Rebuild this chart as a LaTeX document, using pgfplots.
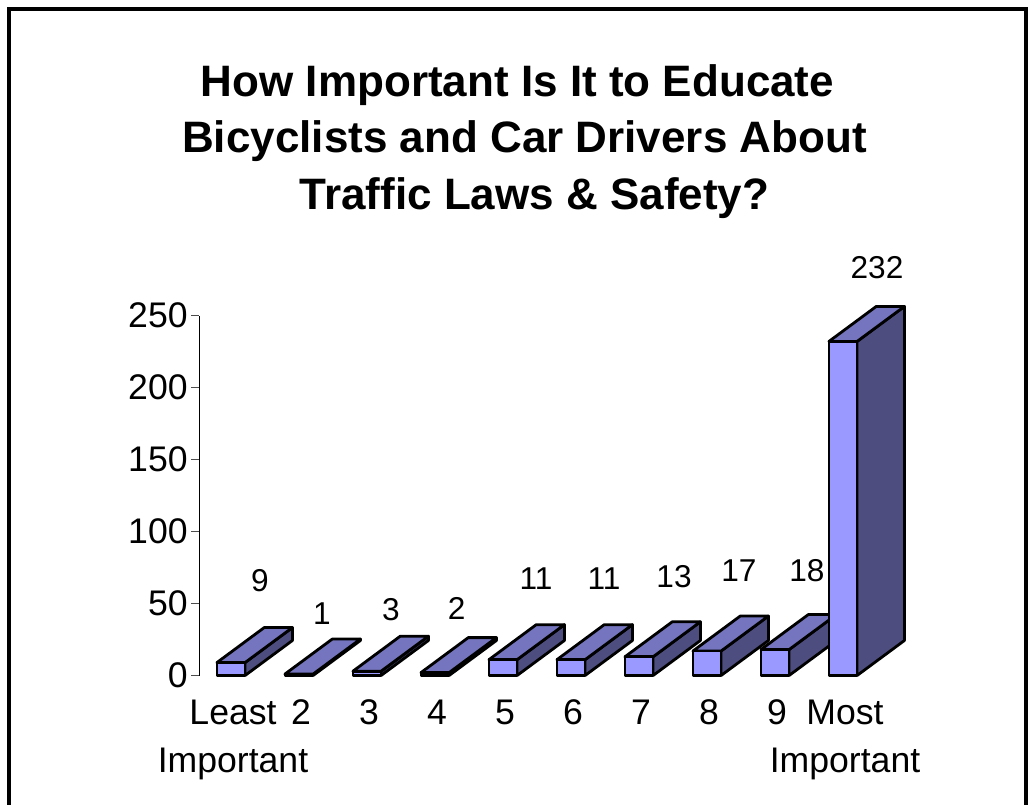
\documentclass[border=0pt]{standalone}
\usepackage{fontspec}
\setmainfont{Liberation Sans}
\usepackage{pgfplots}
\pgfplotsset{compat=1.18}
\definecolor{frontc}{RGB}{153,153,255}
\definecolor{topc}{RGB}{117,117,191}
\definecolor{sidec}{RGB}{77,77,128}
\begin{document}
\begin{tikzpicture}[x=1pt,y=1pt]
\path[use as bounding box] (0,0) rectangle (775.5pt,603pt);
\draw[line width=2.6pt] (6.75pt,-5pt) -- (6.75pt,596.25pt) -- (769.5pt,596.25pt) -- (769.5pt,-5pt);
\node[font=\bfseries\fontsize{33}{36}\selectfont] at (388.1pt,539.2pt) {How Important Is It to Educate};
\node[font=\bfseries\fontsize{33}{36}\selectfont] at (393.4pt,497.2pt) {Bicyclists and Car Drivers About};
\node[font=\bfseries\fontsize{33}{36}\selectfont] at (400.9pt,454.5pt) {Traffic Laws \& Safety?};
\begin{axis}[
  at={(149.25pt,96.375pt)}, anchor=south west,
  scale only axis, width=534pt, height=270pt,
  xmin=-0.4706, xmax=10, ymin=0, ymax=250,
  clip=false,
  axis lines=left, axis line style={-, line width=0.6pt},
  x axis line style={draw=none},
  xtick={0,1,2,3,4,5,6,7,8,9},
  xticklabels={Least\\Important,2,3,4,5,6,7,8,9,Most\\Important},
  x tick style={draw=none},
  x tick label style={font=\fontsize{26.7}{36}\selectfont, align=center, anchor=north, yshift=-8.5pt, xshift=1.5pt},
  ytick={0,50,100,150,200,250},
  y tick style={line width=0.6pt, color=black!70},
  tick align=outside, major tick length=6pt,
  y tick label style={font=\fontsize{26.7}{30}\selectfont, xshift=1pt},
  /pgf/number format/assume math mode=true,
  every axis plot/.append style={line width=2.1pt, draw=black, line join=round},
]
% side faces
\addplot[fill=sidec] coordinates {(0.207,0) (0.903,24.3) (0.903,33.3) (0.207,9)} -- cycle;
\addplot[fill=sidec] coordinates {(1.207,0) (1.903,24.3) (1.903,25.3) (1.207,1)} -- cycle;
\addplot[fill=sidec] coordinates {(2.207,0) (2.903,24.3) (2.903,27.3) (2.207,3)} -- cycle;
\addplot[fill=sidec] coordinates {(3.207,0) (3.903,24.3) (3.903,26.3) (3.207,2)} -- cycle;
\addplot[fill=sidec] coordinates {(4.207,0) (4.903,24.3) (4.903,35.3) (4.207,11)} -- cycle;
\addplot[fill=sidec] coordinates {(5.207,0) (5.903,24.3) (5.903,35.3) (5.207,11)} -- cycle;
\addplot[fill=sidec] coordinates {(6.207,0) (6.903,24.3) (6.903,37.3) (6.207,13)} -- cycle;
\addplot[fill=sidec] coordinates {(7.207,0) (7.903,24.3) (7.903,41.3) (7.207,17)} -- cycle;
\addplot[fill=sidec] coordinates {(8.207,0) (8.903,24.3) (8.903,42.3) (8.207,18)} -- cycle;
\addplot[fill=sidec] coordinates {(9.207,0) (9.903,24.3) (9.903,256.3) (9.207,232)} -- cycle;
% top faces
\addplot[fill=topc] coordinates {(-0.207,9) (0.489,33.3) (0.903,33.3) (0.207,9)} -- cycle;
\addplot[fill=topc] coordinates {(0.793,1) (1.489,25.3) (1.903,25.3) (1.207,1)} -- cycle;
\addplot[fill=topc] coordinates {(1.793,3) (2.489,27.3) (2.903,27.3) (2.207,3)} -- cycle;
\addplot[fill=topc] coordinates {(2.793,2) (3.489,26.3) (3.903,26.3) (3.207,2)} -- cycle;
\addplot[fill=topc] coordinates {(3.793,11) (4.489,35.3) (4.903,35.3) (4.207,11)} -- cycle;
\addplot[fill=topc] coordinates {(4.793,11) (5.489,35.3) (5.903,35.3) (5.207,11)} -- cycle;
\addplot[fill=topc] coordinates {(5.793,13) (6.489,37.3) (6.903,37.3) (6.207,13)} -- cycle;
\addplot[fill=topc] coordinates {(6.793,17) (7.489,41.3) (7.903,41.3) (7.207,17)} -- cycle;
\addplot[fill=topc] coordinates {(7.793,18) (8.489,42.3) (8.903,42.3) (8.207,18)} -- cycle;
\addplot[fill=topc] coordinates {(8.793,232) (9.489,256.3) (9.903,256.3) (9.207,232)} -- cycle;
% front faces: the values
\addplot[ybar, bar width=0.414, fill=frontc] coordinates {(0,9) (1,1) (2,3) (3,2) (4,11) (5,11) (6,13) (7,17) (8,18) (9,232)};
% data labels
\begin{scope}[every node/.style={font=\fontsize{23.7}{25}\selectfont}]
\node at (axis cs:0.426,66) {9};
\node at (axis cs:1.338,43) {1};
\node at (axis cs:2.35,46) {3};
\node at (axis cs:3.32,46.5) {2};
\node at (axis cs:4.485,67) {11};
\node at (axis cs:5.485,67) {11};
\node at (axis cs:6.515,69) {13};
\node at (axis cs:7.47,72.5) {17};
\node at (axis cs:8.47,72.5) {18};
\node at (axis cs:9.5,283.5) {232};
\end{scope}
\end{axis}
\end{tikzpicture}
\end{document}
